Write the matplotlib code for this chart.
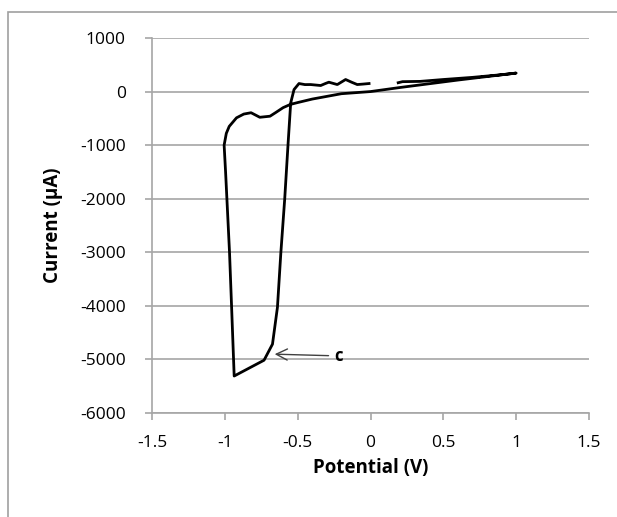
import matplotlib.pyplot as plt
from matplotlib.patches import Rectangle

# cyclic voltammogram
potential = [0.19, 0.22, 0.34, 0.5, 0.7, 0.9, 1.0,
             0.8, 0.6, 0.4, 0.2, 0.0, -0.2, -0.4, -0.5, -0.55, -0.6,
             -0.65, -0.69, -0.76, -0.82, -0.87, -0.92, -0.97, -0.99, -1.005,
             -0.995, -0.986, -0.968, -0.954, -0.936,
             -0.731, -0.673, -0.639, -0.616, -0.589, -0.566, -0.548, -0.525,
             -0.491, -0.45, -0.411, -0.342, -0.31, -0.286, -0.228, -0.171,
             -0.13, -0.091, -0.05, -0.01]
current = [165, 185, 190, 225, 265, 315, 345,
           280, 215, 145, 75, 0, -40, -140, -205, -240, -300,
           -390, -460, -480, -395, -420, -490, -650, -780, -1000,
           -1500, -2000, -3000, -4000, -5310,
           -5015, -4715, -4028, -3026, -2002, -976, -212, 38,
           150, 130, 131, 113, 150, 175, 131, 225,
           175, 131, 140, 150]

x_ticks = [-1.5, -1, -0.5, 0, 0.5, 1, 1.5]
x_labels = ['-1.5', '-1', '-0.5', '0', '0.5', '1', '1.5']
y_ticks = [-6000, -5000, -4000, -3000, -2000, -1000, 0, 1000]

plt.rcParams['font.family'] = ['Open Sans', 'DejaVu Sans']
plt.rcParams['axes.unicode_minus'] = False

fig = plt.figure(figsize=(6.17, 5.17), dpi=100)
fig.patches.append(Rectangle((8 / 617, -0.1), 1.2, 1 - 12 / 517 + 0.1,
                             transform=fig.transFigure, fill=False,
                             edgecolor='#a0a0a0', linewidth=1.2))
ax = fig.add_axes([0.2464, 0.2012, 0.7082, 0.7253])

ax.plot(potential, current, color='black', linewidth=2.0,
        solid_joinstyle='round', zorder=3)

ax.set_xlim(-1.5, 1.5)
ax.set_ylim(-6000, 1000)
ax.set_xticks(x_ticks)
ax.set_xticklabels(x_labels)
ax.set_yticks(y_ticks)
ax.grid(axis='y', color='#a6a6a6', linewidth=1.2)
ax.set_axisbelow(True)

for s in ['top', 'right']:
    ax.spines[s].set_visible(False)
for s in ['left', 'bottom']:
    ax.spines[s].set_color('#a6a6a6')
    ax.spines[s].set_linewidth(1.2)
ax.tick_params(colors='#a6a6a6', labelcolor='black', labelsize=12.5,
               length=5, width=1.2)
ax.tick_params(axis='x', pad=11)
ax.tick_params(axis='y', pad=14)

ax.set_xlabel('Potential (V)', fontsize=13.5, fontweight='bold')
ax.set_ylabel('Current (µA)', fontsize=13.5, fontweight='bold')
ax.xaxis.set_label_coords(0.5, -0.12)
ax.yaxis.set_label_coords(-0.204, 0.5)

ax.annotate('c', xy=(-0.658, -4902), xytext=(-0.25, -4935),
            fontsize=12, fontweight='bold', va='center',
            arrowprops=dict(arrowstyle='->', color='#404040', lw=1.0,
                            shrinkA=2, shrinkB=0, mutation_scale=20))

fig.savefig('out.png', dpi=100)
